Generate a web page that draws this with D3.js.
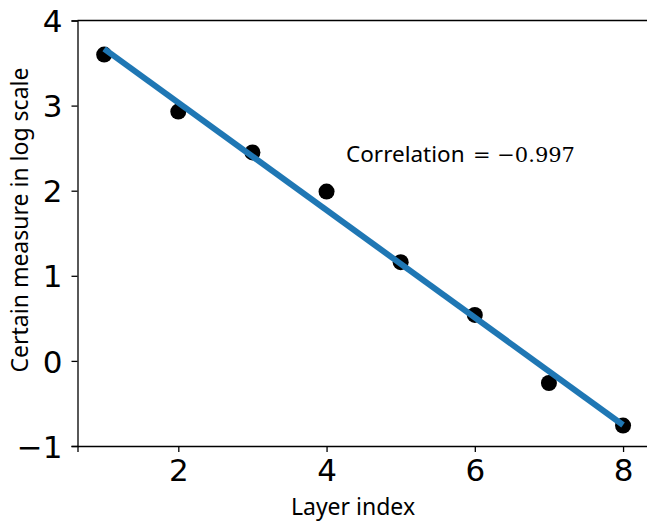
<!DOCTYPE html>
<html>
<head>
<meta charset="utf-8">
<script src="https://cdn.jsdelivr.net/npm/d3@7"></script>
<style>
  body { margin: 0; background: #fff; }
  svg { display: block; }
</style>
</head>
<body>
<svg id="chart" width="647" height="521"></svg>
<script>
const layers = [1, 2, 3, 4, 5, 6, 7, 8]
const measure = [3.6, 2.93, 2.45, 1.99, 1.16, 0.54, -0.26, -0.76]
const xTicks = [2, 4, 6, 8]
const yTicks = [-1, 0, 1, 2, 3, 4]
const corrLabel = "Correlation"
const corrValue = "= \u22120.997"

const width = 647, height = 521
const marginLeft = 77.5, marginTop = 20.5, marginBottom = 75
const plotRight = 649

const svg = d3.select('#chart')

const x = d3.scaleLinear([0.64, 8.35], [marginLeft, plotRight])
const y = d3.scaleLinear([-1, 4], [height - marginBottom, marginTop])

// least squares fit
const mx = d3.mean(layers), my = d3.mean(measure)
const slope = d3.sum(layers, (d, i) => (d - mx) * (measure[i] - my)) / d3.sum(layers, d => (d - mx) ** 2)
const icpt = my - slope * mx
const fit = [layers[0], layers[layers.length - 1]].map(v => [v, icpt + slope * v])

// points
svg.append('g')
  .selectAll('circle')
  .data(layers)
  .join('circle')
  .attr('cx', d => x(d))
  .attr('cy', (d, i) => y(measure[i]))
  .attr('r', 8)
  .attr('fill', '#000')

svg.append('path')
  .attr('d', d3.line().x(d => x(d[0])).y(d => y(d[1]))(fit))
  .attr('fill', 'none')
  .attr('stroke', '#1f77b4')
  .attr('stroke-width', 6)

// axes
const xAxis = d3.axisBottom(x).tickValues(xTicks).tickSize(6).tickPadding(7).tickFormat(d3.format('d'))
const yAxis = d3.axisLeft(y).tickValues(yTicks).tickSize(6).tickPadding(9)
  .tickFormat(d => d < 0 ? '\u2212' + Math.abs(d) : d)

const gx = svg.append('g')
  .attr('transform', `translate(0, ${height - marginBottom})`)
  .call(xAxis)
const gy = svg.append('g')
  .attr('transform', `translate(${marginLeft}, 0)`)
  .call(yAxis)

for (const g of [gx, gy]) {
  g.selectAll('text')
    .attr('font-family', 'DejaVu Sans')
    .attr('font-size', 31)
    .attr('fill', '#000')
  g.selectAll('line, path').attr('stroke', '#000').attr('stroke-width', 1.3)
}
gy.selectAll('text').attr('dy', '0.36em')

// top spine
svg.append('line')
  .attr('x1', marginLeft).attr('x2', plotRight)
  .attr('y1', marginTop).attr('y2', marginTop)
  .attr('stroke', '#000').attr('stroke-width', 1.3)

// labels
svg.append('text')
  .attr('x', 353)
  .attr('y', 515)
  .attr('text-anchor', 'middle')
  .attr('font-family', 'Noto Sans')
  .attr('font-size', 23)
  .text('Layer index')

svg.append('text')
  .attr('transform', `translate(28, 220) rotate(-90)`)
  .attr('text-anchor', 'middle')
  .attr('font-family', 'Noto Sans')
  .attr('font-size', 23)
  .text('Certain measure in log scale')

const ann = svg.append('text')
  .attr('x', 346)
  .attr('y', 162)
ann.append('tspan').attr('font-family', 'Noto Sans').attr('font-size', 22.5).text(corrLabel)
ann.append('tspan').attr('x', 473).attr('font-family', 'DejaVu Serif').attr('font-size', 21).text(corrValue)
</script>
</body>
</html>
